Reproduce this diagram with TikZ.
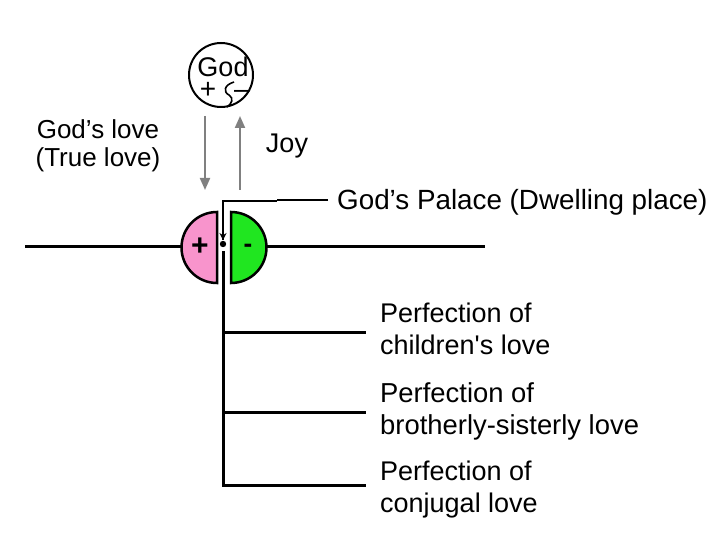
\documentclass[tikz,border=0pt]{standalone}
\usepackage{fontspec}
\setmainfont{Liberation Sans}
\usetikzlibrary{arrows.meta}
\definecolor{pinkfill}{RGB}{248,148,204}
\definecolor{greenfill}{RGB}{32,230,32}
\definecolor{arrowgray}{RGB}{128,128,128}
\begin{document}
\begin{tikzpicture}[x=1pt,y=-1pt,
  lbl/.style={font=\fontsize{27}{32}\selectfont, inner sep=0pt, align=left},
  sym/.style={font=\fontsize{28}{28}\selectfont, inner sep=0pt, text height=11pt, text depth=0pt},
  blk/.style={line width=3pt},
  half/.style={draw=black, line width=2.5pt},
  grayarrow/.style={draw=arrowgray, line width=2pt, -{Triangle[length=12pt,width=10pt]}},
]
\useasboundingbox (0,0) rectangle (720,540);

% God circle
\node[draw, circle, line width=2pt, minimum size=64pt, inner sep=0pt] (god) at (221,75) {};
\node[lbl, anchor=base, text height=18pt, text depth=0pt] (godtxt) at (223,77) {God};
\node[sym, anchor=base] (plus) at (208,99) {+};
\node[sym, anchor=base] (minus) at (242,99) {–};
\draw[line width=1.6pt] (234,82) .. controls (224,85) and (223,92) .. (229,95)
  .. controls (234,98) and (232,104) .. (227,107);

% gray arrows
\coordinate (dtop) at (205,116);
\coordinate (dbot) at (205,190);
\coordinate (utop) at (240,116);
\coordinate (ubot) at (240,190);
\draw[grayarrow] (dtop) -- (dbot);
\draw[grayarrow] (ubot) -- (utop);

\node[font=\fontsize{26}{28}\selectfont, inner sep=0pt, align=center] (love) at (98,146) {God’s love\\(True love)};
\node[lbl, anchor=base] (joy) at (287,153) {Joy};
\node[lbl, font=\fontsize{27.8}{32}\selectfont, anchor=base west] (palace) at (337,210) {God’s Palace (Dwelling place)};

% palace line with small arrow
\coordinate (pal1) at (328,200);
\coordinate (pal2) at (277,200);
\coordinate (pal3) at (277,201);
\coordinate (pal4) at (223,201);
\coordinate (arrtip) at (223,240);
\draw[line width=2.5pt] (pal1) -- (pal2);
\draw[line width=1.5pt] (pal3) -- (pal4) -- (arrtip);
\draw[line width=1.2pt, -{Stealth[length=7pt,width=7pt]}] (223,225) -- (arrtip);
\fill (223,244) circle (3.2pt);

% halves
\draw[half, fill=pinkfill] (217,212) arc[start angle=270, end angle=90, radius=35.5] -- cycle;
\draw[half, fill=greenfill] (231,212) arc[start angle=270, end angle=450, radius=35.5] -- cycle;
\node[font=\fontsize{30}{30}\bfseries\selectfont, inner sep=0pt, anchor=base] (pl) at (200,255) {+};
\node[font=\fontsize{26}{26}\bfseries\selectfont, inner sep=0pt, anchor=base] (mi) at (248,252) {-};

\coordinate (hl1) at (25,246);
\coordinate (hl2) at (181.5,246);
\coordinate (hr1) at (266.5,246);
\coordinate (hr2) at (485,246);
\draw[blk] (hl1) -- (hl2);
\draw[blk] (hr1) -- (hr2);

% trunk and branches
\coordinate (t0) at (223,251);
\coordinate (b1) at (223,332);
\coordinate (b2) at (223,412);
\coordinate (b3) at (223,485);
\coordinate (e1) at (366,332);
\coordinate (e2) at (366,412);
\coordinate (e3) at (366,485);
\draw[blk] (t0) -- (b3) -- (e3);
\draw[blk] (b1) -- (e1);
\draw[blk] (b2) -- (e2);

\node[lbl, anchor=west] (p1) at (380,329) {Perfection of\\children\textquotesingle s love};
\node[lbl, font=\fontsize{27.4}{32}\selectfont, anchor=west] (p2) at (380,411) {Perfection of\\brotherly-sisterly love};
\node[lbl, anchor=west] (p3) at (380,490) {Perfection of\\conjugal love};
\end{tikzpicture}
\end{document}
